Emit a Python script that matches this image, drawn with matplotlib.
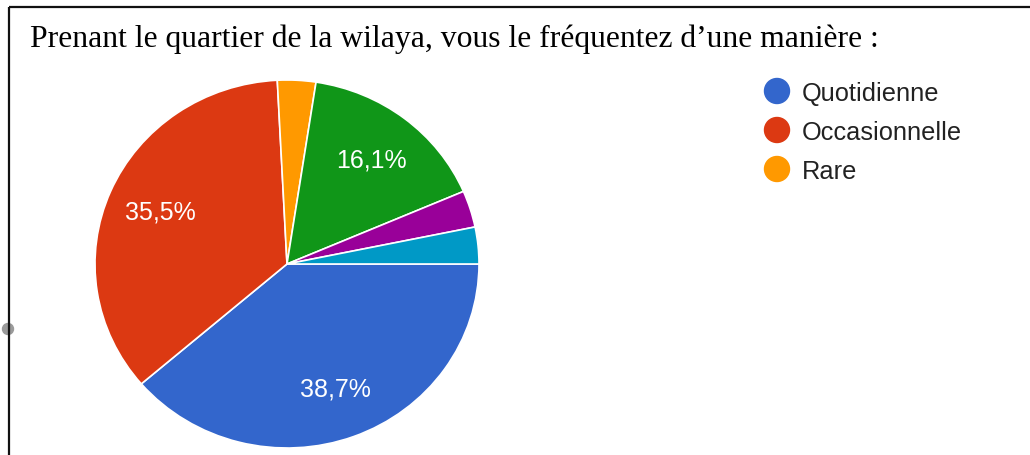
"""Pie chart of how often respondents visit the wilaya district."""

import matplotlib

matplotlib.use("Agg")

import matplotlib.pyplot as plt
from matplotlib.patches import Circle, Rectangle

TITLE = "Prenant le quartier de la wilaya, vous le fréquentez d\u2019une manière :"

# responses per answer, in the order the slices are drawn (clockwise from 3 o'clock)
counts = [12, 11, 1, 5, 1, 1]
colors = ["#3366cc", "#dc3912", "#ff9900", "#109618", "#990099", "#0099c6"]
legend_labels = ["Quotidienne", "Occasionnelle", "Rare"]


def pct_label(pct: float) -> str:
    if pct < 5:
        return ""
    return f"{pct:.1f}%".replace(".", ",")


fig = plt.figure(figsize=(10.30, 4.56), dpi=100)
W, H = 1030, 456

# overlay in pixel coordinates for the frame, title and legend
overlay = fig.add_axes([0, 0, 1, 1])
overlay.set_xlim(0, W)
overlay.set_ylim(H, 0)
overlay.axis("off")

overlay.add_patch(Rectangle((8.5, 7.5), 1200, 600, fill=False, edgecolor="#111111", linewidth=1.6))
overlay.add_patch(Circle((8, 330), 5.5, color="#9a9a9a", zorder=0))
overlay.text(30, 47, TITLE, fontsize=22.8, family="Liberation Serif", color="black", va="baseline")

for i, label in enumerate(legend_labels):
    y = 92 + i * 39
    overlay.add_patch(Circle((777, y), 12.5, color=colors[i]))
    overlay.text(802, y, label, fontsize=18.3, family="Liberation Sans", color="#222222", va="center_baseline")

# pie drawn in its own axes, slightly wider than tall
ax = fig.add_axes([95 / W, (H - 449) / H, 384 / W, 368 / H])
wedges, texts, autotexts = ax.pie(
    counts,
    colors=colors,
    startangle=0,
    counterclock=False,
    autopct=pct_label,
    pctdistance=0.72,
    wedgeprops={"edgecolor": "white", "linewidth": 1.2},
    textprops={"color": "white", "fontsize": 18, "family": "Liberation Sans"},
)
ax.set_aspect("auto")
ax.set_xlim(-1, 1)
ax.set_ylim(-1, 1)

fig.savefig("out.png", dpi=100)
plt.close(fig)
